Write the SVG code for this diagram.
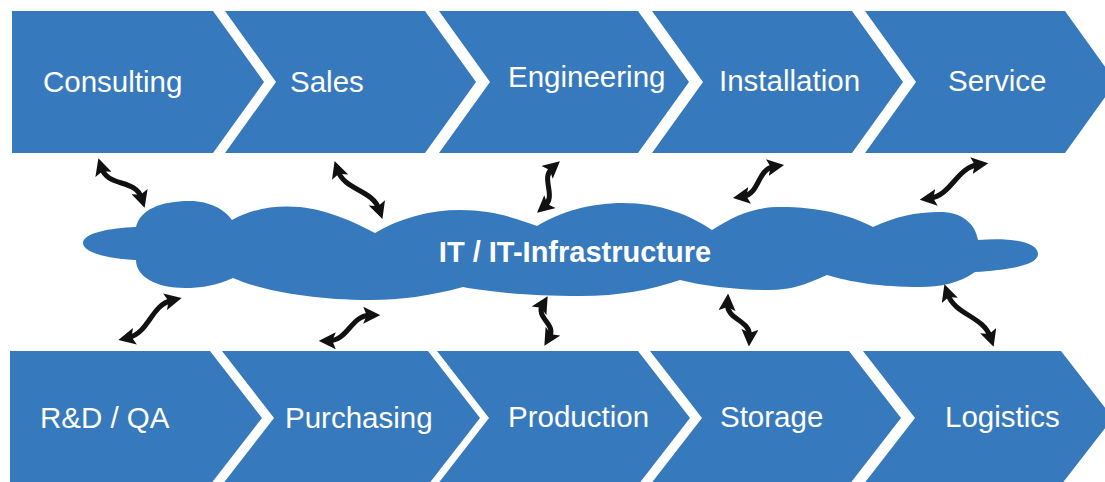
<svg xmlns="http://www.w3.org/2000/svg" width="1105" height="482" viewBox="0 0 1105 482">
<style>
.chev{fill:#3779bd}
.lbl{fill:#ffffff;font-family:"Liberation Sans",Arial,Helvetica,sans-serif;font-size:29.5px}
.cl{fill:#ffffff;font-family:"Liberation Sans",Arial,Helvetica,sans-serif;font-size:29px;font-weight:bold}
.conn{fill:none;stroke:#111111;stroke-width:5;stroke-linecap:butt;marker-start:url(#ah);marker-end:url(#ah)}
</style>
<defs>
<marker id="ah" markerUnits="userSpaceOnUse" markerWidth="17" markerHeight="17" refX="7" refY="8.5" orient="auto-start-reverse" viewBox="0 0 17 17">
<path d="M0,0 L17,8.5 L0,17 L3.5,8.5 Z" fill="#111111"/>
</marker>
</defs>
<rect width="1105" height="482" fill="#ffffff"/>

<g id="consulting"><polygon class="chev" points="12,11 213,11 264,82 213,153 12,153"/><text class="lbl" x="43" y="92">Consulting</text></g>
<g id="sales"><polygon class="chev" points="225,11 425,11 476,82 425,153 225,153 276,82"/><text class="lbl" x="290" y="92">Sales</text></g>
<g id="engineering"><polygon class="chev" points="439,11 638,11 689,82 638,153 439,153 490,82"/><text class="lbl" x="508" y="87">Engineering</text></g>
<g id="installation"><polygon class="chev" points="652,11 852,11 903,82 852,153 652,153 703,82"/><text class="lbl" x="719" y="91">Installation</text></g>
<g id="service"><polygon class="chev" points="865,11 1065,11 1116,82 1065,153 865,153 916,82"/><text class="lbl" x="948" y="91">Service</text></g>

<g id="rdqa"><polygon class="chev" points="10,351 210,351 262,418 210,485 10,485"/><text class="lbl" x="40" y="428">R&amp;D / QA</text></g>
<g id="purchasing"><polygon class="chev" points="222,351 428,351 480,418 428,485 222,485 274,418"/><text class="lbl" x="285" y="428">Purchasing</text></g>
<g id="production"><polygon class="chev" points="437,351 638,351 690,418 638,485 437,485 489,418"/><text class="lbl" x="508" y="427">Production</text></g>
<g id="storage"><polygon class="chev" points="650,351 849,351 901,418 849,485 650,485 702,418"/><text class="lbl" x="720" y="427">Storage</text></g>
<g id="logistics"><polygon class="chev" points="863,351 1061,351 1113,418 1061,485 863,485 915,418"/><text class="lbl" x="945" y="427">Logistics</text></g>

<g id="it-infrastructure">
<path class="chev" d="M83,243 C83,233 110,228 136,227 C140,210 160,201 190,201 C210,201 225,210 232,220 C255,208 275,205 300,207 C330,210 360,225 375,233 C400,218 430,210 460,210 C495,210 520,220 537,226 C560,212 590,203 623,203 C660,203 690,215 712,230 C735,215 755,207 780,207 C820,207 850,215 873,227 C895,217 915,212 940,212 C960,212 975,222 978,240 C1010,237 1038,242 1038,254 C1038,266 1005,270 975,272 C960,283 940,287 920,287 C880,287 850,282 827,275 C805,285 790,290 770,290 C735,290 705,286 680,280 C650,290 620,296 580,296 C530,296 490,292 463,287 C430,296 400,300 370,300 C310,300 260,290 233,278 C215,286 200,288 185,288 C155,288 136,276 136,260 C110,259 83,253 83,243 Z"/>
<text class="cl" x="575" y="262" text-anchor="middle">IT / IT-Infrastructure</text>
</g>

<g id="connectors">
<path class="conn" d="M101.4,167.8 C107.6,187.5 135.4,178.5 141.6,198.2"/>
<path class="conn" d="M337.8,170.5 C344.7,190.8 372.3,189.2 379.2,209.5"/>
<path class="conn" d="M552.4,167.8 C540,178.6 557,195.4 544.6,206.2"/>
<path class="conn" d="M774.2,166.5 C756.8,169.3 760.2,193.7 742.8,196.5"/>
<path class="conn" d="M978.4,164.6 C956.4,167.7 951.6,195.3 929.6,198.4"/>
<path class="conn" d="M171.9,300.2 C150.8,305.1 149.2,332.9 128.1,337.8"/>
<path class="conn" d="M370.2,315.2 C351.1,315.2 347.9,340.8 328.8,340.8"/>
<path class="conn" d="M542.6,304.8 C535.1,317.6 556.9,324.4 549.4,337.2"/>
<path class="conn" d="M727.5,303.6 C726.5,320.1 750.5,319.9 749.5,336.4"/>
<path class="conn" d="M947.6,293.7 C954.8,315.2 983.2,315.8 990.4,337.3"/>
</g>
</svg>
